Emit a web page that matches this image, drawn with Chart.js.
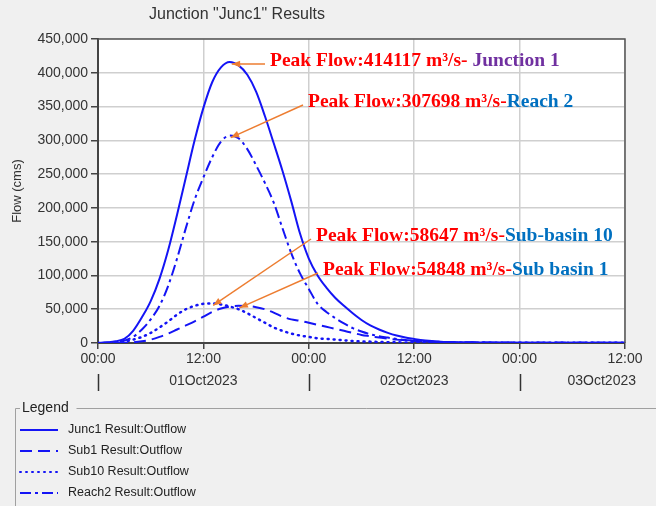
<!DOCTYPE html>
<html>
<head>
<meta charset="utf-8">
<script src="https://cdn.jsdelivr.net/npm/chart.js@4.4.1/dist/chart.umd.min.js"></script>
<style>
  html, body { margin: 0; padding: 0; background: #f0f0f0; }
  #wrap { width: 656px; height: 506px; position: relative; }
</style>
</head>
<body>
<div id="wrap"><canvas id="flowChart" width="656" height="506"></canvas></div>
<script>
// hours since 01Oct2023 00:00
const hours = [0,1,2,3,4,5,6,7,8,9,10,11,12,13,14,15,16,17,18,19,20,21,22,23,24,25,26,27,28,29,30,
    31,32,33,34,35,36,37,38,39,40,41,42,43,44,45,46,47,48,49,50,51,52,53,54,55,56,57,58,59,60];

const junc1 = [0,1000,2500,6000,18000,38000,62000,95000,138000,190000,245000,300000,348000,386000,408000,416000,
    411000,397000,372000,336000,296000,255000,210000,162000,125000,100000,82000,67000,55000,44000,34000,
    26000,20000,15000,11000,8000,6000,4000,3000,2000,1500,1200,1000,900,800,700,600,600,500,500,400,
    400,400,300,300,300,300,300,300,300,300];
const sub1 = [0,0,0,300,1000,2500,5000,9000,14000,20000,26000,32000,39000,46000,51000,54000,
    55000,54800,53000,50000,45000,39000,35000,33000,30000,27000,24000,21000,18000,15000,12000,
    10000,8000,6500,5000,4000,3000,2500,2000,1500,1000,900,800,700,600,500,500,400,400,300,300,
    300,300,200,200,200,200,200,200,200,200];
const sub10 = [0,0,500,2000,5000,9000,15000,23000,32000,42000,50000,55000,58000,58600,57000,54000,
    50000,44000,37000,30000,23000,18000,14000,11000,9000,7000,6000,5000,4000,3000,2500,
    2000,1500,1200,1000,800,700,600,500,400,400,300,300,300,200,200,200,200,200,200,200,
    200,200,200,200,200,200,200,200,200,200];
const reach2 = [0,500,1500,3500,9000,20000,35000,55000,85000,125000,170000,212000,245000,275000,298000,307000,
    303000,287000,263000,237000,208000,170000,133000,103000,80000,58000,46000,37000,29000,22000,17000,
    13000,10000,8000,6000,4500,3500,2500,2000,1500,1000,900,800,700,600,500,500,400,400,300,300,
    300,300,300,200,200,200,200,200,200,200];

const seriesNames = ['Junc1 Result:Outflow', 'Sub1 Result:Outflow', 'Sub10 Result:Outflow', 'Reach2 Result:Outflow'];
const dayLabels = ['01Oct2023', '02Oct2023', '03Oct2023'];

const peaks = [
    {value: '414117', name: 'Junction 1', nameColor: '#7030a0', series: 0, tx: 270, ty: 61, sep: ' '},
    {value: '307698', name: 'Reach 2', nameColor: '#0070c0', series: 3, tx: 308, ty: 102, sep: ''},
    {value: '58647', name: 'Sub-basin 10', nameColor: '#0070c0', series: 2, tx: 316, ty: 236, sep: ''},
    {value: '54848', name: 'Sub basin 1', nameColor: '#0070c0', series: 1, tx: 323, ty: 270, sep: ''}
];

const blue = '#1414f5';
const dashes = [[], [12, 6], [1, 5], [11, 4, 3, 4]];
const allSeries = [junc1, sub1, sub10, reach2];

function toPoints(arr) {
    return arr.map((v, i) => ({x: hours[i], y: v}));
}

const datasets = allSeries.map((arr, i) => ({
    label: seriesNames[i],
    data: toPoints(arr),
    borderColor: blue,
    borderWidth: i === 2 ? 2.5 : 2,
    borderDash: dashes[i],
    borderCapStyle: i === 2 ? 'round' : 'butt',
    pointRadius: 0,
    fill: false,
    cubicInterpolationMode: 'monotone'
}));

const uiFont = '"Liberation Sans", Arial, sans-serif';

const decor = {
    id: 'decor',
    beforeDraw(chart) {
        const ctx = chart.ctx;
        const a = chart.chartArea;
        ctx.save();
        ctx.fillStyle = '#f0f0f0';
        ctx.fillRect(0, 0, chart.width, chart.height);
        ctx.fillStyle = '#ffffff';
        ctx.fillRect(a.left, a.top, a.right - a.left, a.bottom - a.top);
        ctx.restore();
    },
    afterDraw(chart) {
        const ctx = chart.ctx;
        const a = chart.chartArea;
        const xs = chart.scales.x;
        const ys = chart.scales.y;
        ctx.save();

        // frame top/right
        ctx.strokeStyle = '#555';
        ctx.lineWidth = 1.5;
        ctx.beginPath();
        ctx.moveTo(a.left, a.top);
        ctx.lineTo(a.right, a.top);
        ctx.lineTo(a.right, a.bottom);
        ctx.stroke();

        // title
        ctx.fillStyle = '#333';
        ctx.font = '16px ' + uiFont;
        ctx.textAlign = 'center';
        ctx.textBaseline = 'middle';
        ctx.fillText('Junction "Junc1" Results', 237, 15);

        // day labels (kept inside the window) + day separators
        ctx.font = '14px ' + uiFont;
        dayLabels.forEach((d, i) => {
            const w = ctx.measureText(d).width;
            const cx = Math.min(xs.getPixelForValue(i * 24 + 12), 636 - w / 2);
            ctx.fillText(d, cx, 381);
        });
        ctx.strokeStyle = '#333';
        ctx.lineWidth = 1.5;
        [0, 24, 48].forEach(h => {
            const px = Math.round(xs.getPixelForValue(h)) + 0.5;
            ctx.beginPath();
            ctx.moveTo(px, 374);
            ctx.lineTo(px, 391);
            ctx.stroke();
        });

        // y axis title
        ctx.save();
        ctx.translate(17, 191);
        ctx.rotate(-Math.PI / 2);
        ctx.font = '13px ' + uiFont;
        ctx.fillText('Flow (cms)', 0, 0);
        ctx.restore();

        // peak annotations
        peaks.forEach(p => {
            const arr = allSeries[p.series];
            let k = 0;
            arr.forEach((v, i) => { if (v > arr[k]) k = i; });
            const px = xs.getPixelForValue(hours[k]);
            const py = ys.getPixelForValue(arr[k]);
            const tipX = p.series === 0 ? px + 2 : px + 1;
            const tipY = py + 2;
            const sx = p.tx - 5, sy = p.ty + 3;
            ctx.strokeStyle = '#ed7d31';
            ctx.fillStyle = '#ed7d31';
            ctx.lineWidth = 1.5;
            ctx.beginPath();
            ctx.moveTo(sx, sy);
            ctx.lineTo(tipX, tipY);
            ctx.stroke();
            const ang = Math.atan2(tipY - sy, tipX - sx);
            ctx.beginPath();
            ctx.moveTo(tipX, tipY);
            ctx.lineTo(tipX - 9 * Math.cos(ang - 0.38), tipY - 9 * Math.sin(ang - 0.38));
            ctx.lineTo(tipX - 9 * Math.cos(ang + 0.38), tipY - 9 * Math.sin(ang + 0.38));
            ctx.closePath();
            ctx.fill();

            ctx.font = 'bold 19.5px "Liberation Serif", "Times New Roman", serif';
            ctx.textAlign = 'left';
            ctx.textBaseline = 'middle';
            const red = 'Peak Flow:' + p.value + ' m\u00b3/s-' + p.sep;
            ctx.fillStyle = '#ff0000';
            ctx.fillText(red, p.tx, p.ty);
            const w = ctx.measureText(red).width;
            ctx.fillStyle = p.nameColor;
            ctx.fillText(p.name, p.tx + w, p.ty);
        });

        // legend panel
        ctx.strokeStyle = '#a0a0a0';
        ctx.lineWidth = 1;
        ctx.beginPath();
        ctx.moveTo(76.5, 408.5);
        ctx.lineTo(656, 408.5);
        ctx.moveTo(20, 408.5);
        ctx.lineTo(15.5, 408.5);
        ctx.lineTo(15.5, 506);
        ctx.stroke();
        ctx.fillStyle = '#222';
        ctx.font = '14px ' + uiFont;
        ctx.textAlign = 'left';
        ctx.textBaseline = 'middle';
        ctx.fillText('Legend', 22, 408);
        ctx.font = '12.5px ' + uiFont;
        chart.data.datasets.forEach((ds, i) => {
            const y = 430 + i * 21;
            ctx.strokeStyle = blue;
            ctx.lineWidth = 2;
            ctx.lineCap = ds.borderCapStyle;
            ctx.setLineDash(ds.borderDash);
            ctx.beginPath();
            ctx.moveTo(20, y);
            ctx.lineTo(58, y);
            ctx.stroke();
            ctx.setLineDash([]);
            ctx.lineCap = 'butt';
            ctx.fillStyle = '#222';
            ctx.fillText(ds.label, 68, y);
        });
        ctx.restore();
    }
};

const chartCtx = document.getElementById('flowChart').getContext('2d');
new Chart(chartCtx, {
    type: 'line',
    data: { datasets: datasets },
    options: {
        responsive: false,
        animation: false,
        layout: { padding: { left: 0, top: 39, right: 31, bottom: 133 } },
        plugins: {
            legend: { display: false },
            tooltip: { enabled: false },
            title: { display: false }
        },
        scales: {
            x: {
                type: 'linear',
                min: 0,
                max: 60,
                afterFit: s => { s.height = 30; },
                afterBuildTicks: s => {
                    s.ticks = [0, 12, 24, 36, 48, 60].map(v => ({value: v}));
                },
                ticks: {
                    color: '#333',
                    font: { family: uiFont, size: 14 },
                    padding: 2,
                    maxRotation: 0,
                    callback: v => (v % 24 === 0 ? '00:00' : '12:00')
                },
                grid: { color: '#cfcfcf', lineWidth: 1.5, tickLength: 6, tickColor: '#444', tickWidth: 1.5 },
                border: { color: '#444', width: 2 }
            },
            y: {
                min: 0,
                max: 450000,
                afterFit: s => { s.width = 98; },
                ticks: {
                    stepSize: 50000,
                    color: '#333',
                    font: { family: uiFont, size: 14 },
                    padding: 3,
                    callback: v => v.toLocaleString('en-US')
                },
                grid: { color: '#cfcfcf', lineWidth: 1.5, tickLength: 7, tickColor: '#444', tickWidth: 1.5 },
                border: { color: '#444', width: 2 }
            }
        }
    },
    plugins: [decor]
});
</script>
</body>
</html>
